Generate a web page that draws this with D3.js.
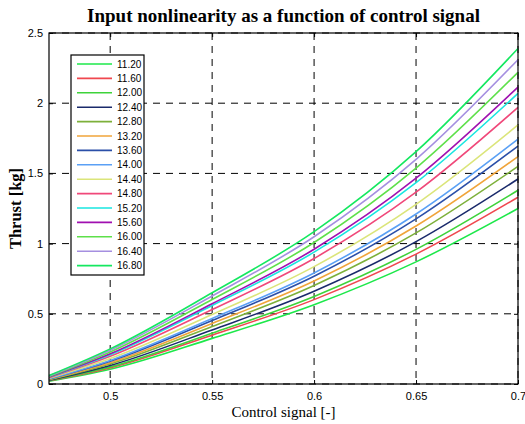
<!DOCTYPE html>
<html>
<head>
<meta charset="utf-8">
<script src="https://cdn.jsdelivr.net/npm/d3@7"></script>
<style>
  body { margin: 0; background: #fff; }
  .tick text { font-family: "Liberation Sans", Arial, sans-serif; font-size: 11px; fill: #000; }
</style>
</head>
<body>
<div id="chart"></div>
<script>
// control signal samples
var xs = [0.47, 0.5, 0.55, 0.6, 0.65, 0.7];

// legend labels (one per curve)
var labels = ["11.20", "11.60", "12.00", "12.40", "12.80", "13.20", "13.60", "14.00",
              "14.40", "14.80", "15.20", "15.60", "16.00", "16.40", "16.80"];

var colors = ["#1de84a", "#f0474f", "#3ed33a", "#1a2a6b", "#7db03a", "#f0a43a", "#2b4fa8", "#5aa0f5",
              "#dbe57a", "#f0487a", "#19e6e0", "#a010b0", "#5ee04a", "#a58fe0", "#14e860"];

// thrust [kg] per curve, at xs
var thrust = [
  [0.020, 0.105, 0.325, 0.565, 0.870, 1.250],
  [0.023, 0.115, 0.348, 0.601, 0.925, 1.330],
  [0.025, 0.122, 0.362, 0.624, 0.959, 1.380],
  [0.027, 0.132, 0.385, 0.661, 1.014, 1.460],
  [0.031, 0.143, 0.410, 0.702, 1.076, 1.550],
  [0.033, 0.152, 0.431, 0.734, 1.125, 1.620],
  [0.036, 0.162, 0.452, 0.768, 1.176, 1.695],
  [0.037, 0.168, 0.466, 0.791, 1.211, 1.745],
  [0.041, 0.181, 0.495, 0.836, 1.280, 1.845],
  [0.045, 0.197, 0.530, 0.894, 1.366, 1.970],
  [0.049, 0.209, 0.559, 0.939, 1.434, 2.070],
  [0.050, 0.215, 0.572, 0.960, 1.466, 2.115],
  [0.054, 0.228, 0.602, 1.008, 1.538, 2.220],
  [0.057, 0.240, 0.627, 1.049, 1.600, 2.310],
  [0.060, 0.250, 0.650, 1.085, 1.655, 2.390]
];

var xTicks = [0.5, 0.55, 0.6, 0.65, 0.7];
var yTicks = [0, 0.5, 1, 1.5, 2, 2.5];

var margin = {top: 33, right: 7, bottom: 40, left: 49},
    width = 525 - margin.left - margin.right,
    height = 424 - margin.top - margin.bottom;

var svg = d3.select("#chart")
  .append("svg")
    .attr("width", 525)
    .attr("height", 424)
  .append("g")
    .attr("transform", "translate(" + margin.left + "," + margin.top + ")");

var x = d3.scaleLinear().domain([0.47, 0.7]).range([0, width]);
var y = d3.scaleLinear().domain([0, 2.5]).range([height, 0]);

// grid
svg.append("g").selectAll("line")
  .data(xTicks)
  .enter().append("line")
    .attr("x1", function(d) { return x(d); })
    .attr("x2", function(d) { return x(d); })
    .attr("y1", 0).attr("y2", height)
    .style("stroke", "#000").style("stroke-width", 1).style("stroke-dasharray", "7,6");
svg.append("g").selectAll("line")
  .data(yTicks)
  .enter().append("line")
    .attr("x1", 0).attr("x2", width)
    .attr("y1", function(d) { return y(d); })
    .attr("y2", function(d) { return y(d); })
    .style("stroke", "#000").style("stroke-width", 1).style("stroke-dasharray", "7,6");

// curves
var line = d3.line()
  .x(function(d, i) { return x(xs[i]); })
  .y(function(d) { return y(d); })
  .curve(d3.curveMonotoneX);

svg.append("g").selectAll("path")
  .data(thrust)
  .enter().append("path")
    .attr("d", line)
    .style("fill", "none")
    .style("stroke", function(d, i) { return colors[i]; })
    .style("stroke-width", 1.6);

// axes (MATLAB style, ticks inside)
var xAxis = svg.append("g")
  .attr("transform", "translate(0," + height + ")")
  .call(d3.axisBottom(x).tickValues(xTicks).tickSize(-4).tickPadding(8).tickFormat(d3.format("")));
var yAxis = svg.append("g")
  .call(d3.axisLeft(y).tickValues(yTicks).tickSize(-4).tickPadding(6).tickFormat(d3.format("")));
svg.append("g")
  .call(d3.axisTop(x).tickValues(xTicks).tickSize(-4).tickFormat(""));
svg.append("g")
  .attr("transform", "translate(" + width + ",0)")
  .call(d3.axisRight(y).tickValues(yTicks).tickSize(-4).tickFormat(""));
svg.selectAll(".domain").remove();
svg.selectAll(".tick line").style("stroke", "#000");

// box
svg.append("rect")
  .attr("width", width).attr("height", height)
  .style("fill", "none").style("stroke", "#000").style("stroke-width", 1.2);

// legend
var lg = svg.append("g").attr("transform", "translate(22,22)");
lg.append("rect")
  .attr("width", 73).attr("height", 220)
  .style("fill", "#fff").style("stroke", "#000").style("stroke-width", 1.2);
labels.forEach(function(lab, i) {
  var yy = 9 + i * 14.4;
  lg.append("line")
    .attr("x1", 6).attr("x2", 41).attr("y1", yy).attr("y2", yy)
    .style("stroke", colors[i]).style("stroke-width", 1.6);
  lg.append("text")
    .attr("x", 46).attr("y", yy)
    .attr("dy", "0.35em")
    .style("font-family", "Liberation Sans, Arial, sans-serif")
    .style("font-size", "10px")
    .text(lab);
});

// title and axis labels
svg.append("text")
  .attr("x", width / 2).attr("y", -11)
  .attr("text-anchor", "middle")
  .style("font-family", "Liberation Serif, serif")
  .style("font-weight", "bold")
  .style("font-size", "19px")
  .text("Input nonlinearity as a function of control signal");

svg.append("text")
  .attr("x", width / 2).attr("y", height + 33)
  .attr("text-anchor", "middle")
  .style("font-family", "Liberation Serif, serif")
  .style("font-size", "15px")
  .text("Control signal [-]");

svg.append("text")
  .attr("transform", "translate(-28," + (height / 2) + ") rotate(-90)")
  .attr("text-anchor", "middle")
  .style("font-family", "Liberation Serif, serif")
  .style("font-weight", "bold")
  .style("font-size", "16.5px")
  .text("Thrust [kg]");
</script>
</body>
</html>
